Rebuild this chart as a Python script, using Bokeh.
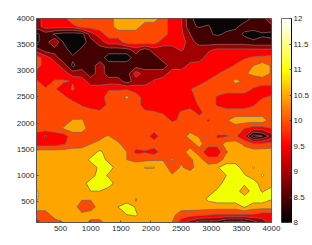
import math
import numpy as np
from bokeh.embed import file_html
from bokeh.resources import INLINE
from bokeh.plotting import figure
from bokeh.layouts import row
from bokeh.models import Range1d, LinearColorMapper, Label, LinearAxis, FixedTicker, CustomJSTickFormatter

x_m = [100, 250, 400, 550, 700, 850, 1000, 1150, 1300, 1450, 1600, 1750, 1900, 2050, 2200, 2350, 2500, 2650, 2800, 2950, 3100, 3250, 3400, 3550, 3700, 3850, 4000]
y_m = [4000, 3850, 3700, 3550, 3400, 3250, 3100, 2950, 2800, 2650, 2500, 2350, 2200, 2050, 1900, 1750, 1600, 1450, 1300, 1150, 1000, 850, 700, 550, 400, 250, 100]

# Wind speed, as position within the half-m/s bands
# (0 = 8-8.5 m/s, 1 = 8.5-9, ... 6 = 11-11.5); one row per height, top first.
z_4000 = [2,3,3,3,4.6,4.6,4,4,4,5,5,5,5,5,4,3,2.6,0.7,0,0,0,0,0,0,0.7,0.9,3]
z_3850 = [2,3,3,3,3,4,4,4,4,5,5,5,4,4,4,3,2.6,0.7,0.4,0.6,0,0.3,0.2,1,1,1,1]
z_3700 = [0.3,1,0.4,0,0,0,2,3,4,4,4,4,4,4,4,3,2.8,1.5,1,0.6,0.4,0.6,1,0.3,0,0.4,0.3]
z_3550 = [0.3,1,2.55,0.4,0,0,1,2,3,3,4,4,4,4,3,3,3,2,1,1,1,1,1,1,0.7,0.7,0.7]
z_3400 = [2,1,1,1,0,0.7,1,1,1,1,1,2,1,2,2,2,2.6,2.2,2.2,2.3,2.7,2.7,2.7,2.7,2.7,2.7,2.7]
z_3250 = [4,3,2,0.7,0.7,1,1,1,0,0,0,1,1,1,2,2,2,2,2,3,3,3,3,3.4,3.6,3.7,3.8]
z_3100 = [4,3,3,2,0.3,1,1,2,1,1,1,1,1,1,1,2,2,2.8,3,3,3,3,3.6,4,4.5,5,4.4]
z_2950 = [3,3,3,3,2,2,1,2,1,1,1,3,2,2,2,3,3,3,3,3,3.4,4,4,4.4,4.7,5,4.4]
z_2800 = [3.6,3,3.6,3.6,3.45,3,2,2,2,2,1,2,2,2.6,3,3,3,3,3,3.6,4,4,4.7,4.4,4,4,4]
z_2650 = [3.6,3.6,3.6,3,3.6,3,3,3,3.4,3.4,3.4,3,3,3,3,3,3,3.4,4,4,4,4,4,4,3.4,3,3]
z_2500 = [4,4,4,3.7,3,3,3,3,4,4,4.7,4,3,3,3,3,3,3,4,4,3.4,3,3,3,3,3.4,3.6]
z_2350 = [4,4,4,4,4,3.4,3,3,3.7,4,4,4,3,3,3,3,3,3,3.6,4,3.4,3,3,3,3.4,4,4]
z_2200 = [4,4,4,4,4,4,4,3.7,4,4,4,4,3.7,3.6,3.4,3,3.6,4,3.2,4,4,4,4,4,4,4,4]
z_2050 = [4,4,4,4,4.6,4.6,4,4,4,4,4,4,4,4,4,3.4,3.6,4,4,3.4,4,4.4,5,5,5,5,4]
z_1900 = [4,4,4,4.6,5,5,4,4,4,4,4,4,4,4,4,4,4,4,4,4,4,4,4,3.5,3,3,3.5]
z_1750 = [3,2.4,3,3,4,4,4,4.4,4.55,4,4,4,4,3,4,4,4,4.9,4.4,4.55,3.4,3.4,3.7,2.5,0,0.5,2]
z_1600 = [3,3,3,3.4,3.9,4,4.5,4.6,5,4.7,4,4,4,4,4,4,4,4,4.9,3.8,3.8,5,5,4.3,3.6,3.7,3.9]
z_1450 = [5,5,5,5,5,5,5,5.7,5,5,4.5,3.2,3.4,3,4,4,4,5,4,2.9,2.9,4.4,5,5,5,5,5]
z_1300 = [5,5,5,5,5,5,5.7,6,5.2,5,4.5,4.3,4.3,4.4,4.45,4.55,4.4,4.3,5,3.8,3.8,5,5,5,5,5,5]
z_1150 = [5,5,5,5,5,5,5,5.7,6,5,5,5,5.55,5.55,5,4,4.6,4.2,5,5,5.4,6,6,5,5.55,5.2,5]
z_1000 = [5,5,5,5,5,5,5,6,5.3,5,5,5,5,5,5,4.6,5,5,5,5,5.2,5.5,6,5.6,5,5.6,5]
z_850 = [5,5,5,5,5,5,6,6,6,5,5,5,5,5,5,5,5,5,5,5,5,6,6,5.7,6,5,5]
z_700 = [5.6,5,5,5,5,5,5.5,5.5,5,5,5,5,5,5,5,5,5,5,5,5,5.7,6,6,4.9,6,5.4,6]
z_550 = [5.6,5,5,5,5,4.6,4.6,5,5,5,5,5.55,5,5,5,5,5,5,5,5.7,6,6,6,6,6,6,5.55]
z_400 = [5,5,5,5,5,4,4,5,5,5.5,6,5.4,5,5,5,5,5,5,5,5,5,5,5,5.6,5,5,5]
z_250 = [4,4,5,5,5,4.7,5,5,5,5,5.5,5.6,5,5,5,4.8,4,3.9,3.8,3.6,3.4,3.4,3.4,3.4,3.4,3,3]
z_100 = [3,4,4,4.5,5,5,4.2,4.2,5,5,5,5,5,5,5,4.5,3,2,1,1,1,0,0,0,1,2,3]

rows = [z_4000, z_3850, z_3700, z_3550, z_3400, z_3250, z_3100, z_2950, z_2800, z_2650, z_2500, z_2350, z_2200, z_2050, z_1900, z_1750, z_1600, z_1450, z_1300, z_1150, z_1000, z_850, z_700, z_550, z_400, z_250, z_100]

levels = [8, 8.5, 9, 9.5, 10, 10.5, 11, 11.5, 12]
band_colors = ["#0a0606", "#420000", "#a00000", "#ff0000", "#ff4800", "#ffa500", "#f2ff00", "#ffffa0"]
x_ticks = [500, 1000, 1500, 2000, 2500, 3000, 3500, 4000]
y_ticks = [500, 1000, 1500, 2000, 2500, 3000, 3500, 4000]
bar_ticks = [8, 8.5, 9, 9.5, 10, 10.5, 11, 11.5, 12]

speed = 8.25 + 0.5 * np.array(rows[::-1], dtype=float)
FONT = "Liberation Sans"
INK = "#2a2a2a"

p = figure(width=281, height=245, output_backend="svg", toolbar_location=None,
           x_range=Range1d(100, 4000), y_range=Range1d(100, 4000),
           min_border_left=36, min_border_right=10, min_border_top=18, min_border_bottom=23,
           background_fill_color="#ff0000", border_fill_color="white", outline_line_color="#555555", outline_line_width=1)
p.grid.visible = False
p.contour(x_m, y_m[::-1], speed, levels, fill_color=band_colors, line_color="#707070", line_width=0.7)
for ax, ticks in ((p.xaxis[0], x_ticks), (p.yaxis[0], y_ticks)):
    ax.ticker = FixedTicker(ticks=ticks)
    ax.major_tick_in = 2
    ax.major_tick_out = 0
    ax.minor_tick_in = 0
    ax.minor_tick_out = 0
    ax.major_label_text_font = FONT
    ax.major_label_text_font_size = "8px"
    ax.major_label_text_color = INK
    ax.major_tick_line_color = "#555555"
    ax.axis_line_color = "#555555"
p.xaxis[0].major_label_standoff = 3
p.yaxis[0].major_label_standoff = 2

p.add_layout(Label(x=105, y=-18, x_units="screen", y_units="screen", text="x (m)", text_font=FONT, text_font_size="9px", text_color=INK))
p.add_layout(Label(x=-24, y=92, x_units="screen", y_units="screen", text="y (m)", angle=math.pi/2, text_font=FONT, text_font_size="9px", text_color=INK))

# colour bar
hot = []
for v in np.linspace(0, 1, 64):
    r = min(1, v / 0.375); g = min(1, max(0, (v - 0.375) / 0.375)); b = max(0, (v - 0.75) / 0.25)
    hot.append("#%02x%02x%02x" % (int(r * 255), int(g * 255), int(b * 255)))
mapper = LinearColorMapper(palette=hot, low=8, high=12)
cb = figure(width=31, height=245, output_backend="svg", toolbar_location=None,
            x_range=Range1d(0, 1), y_range=Range1d(8, 12),
            min_border_left=0, min_border_right=19, min_border_top=18, min_border_bottom=23,
            y_axis_location="right", outline_line_color="#444444", outline_line_width=1)
cb.grid.visible = False
cb.xaxis.visible = False
cb.image(image=[np.linspace(8, 12, 128).reshape(-1, 1)], x=0, y=8, dw=1, dh=4, color_mapper=mapper)
ax = cb.yaxis[0]
ax.ticker = FixedTicker(ticks=bar_ticks)
ax.major_tick_in = 2
ax.major_tick_out = 0
ax.minor_tick_in = 0
ax.minor_tick_out = 0
ax.major_label_standoff = 2
ax.major_label_text_font = FONT
ax.major_label_text_font_size = "8px"
ax.major_label_text_color = INK
ax.major_tick_line_color = "#444444"
ax.formatter = CustomJSTickFormatter(code="return String(tick);")
cb.add_layout(Label(x=0, y=208, x_units="screen", y_units="screen", text="ms", text_font=FONT, text_font_size="8px", text_color=INK))
cb.add_layout(Label(x=10, y=212, x_units="screen", y_units="screen", text="-1", text_font=FONT, text_font_size="6px", text_color=INK))

layout = row(p, cb, spacing=0)
open("out.html", "w").write(file_html(layout, INLINE))
